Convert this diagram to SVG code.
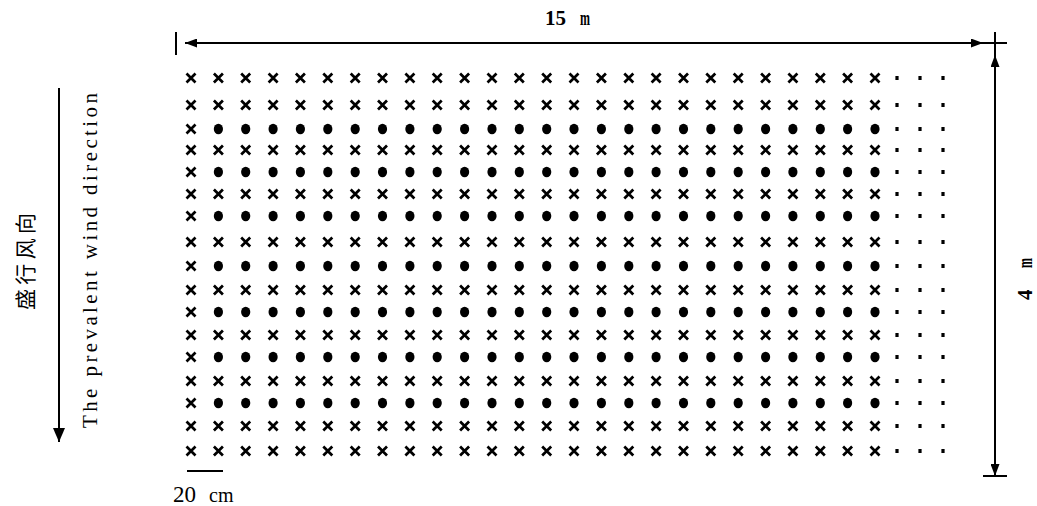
<svg xmlns="http://www.w3.org/2000/svg" xmlns:xlink="http://www.w3.org/1999/xlink" width="1037" height="506" viewBox="0 0 1037 506">
<style>
.ln{stroke:#000;stroke-width:2;fill:none}
.t{font-family:"Liberation Serif","Times New Roman",serif;fill:#000}
.cjk{font-family:"Noto Sans CJK SC","Noto Sans CJK JP",sans-serif;fill:#000}
.cross{stroke:#000;stroke-width:2.7;fill:none}
</style>
<defs>
<marker id="ah" viewBox="0 0 12 9" refX="12" refY="4.5" markerWidth="12" markerHeight="9" markerUnits="userSpaceOnUse" orient="auto-start-reverse">
<path d="M0,0 L12,4.5 L0,9 z" fill="#000"/>
</marker>
<marker id="ahBig" viewBox="0 0 14 12" refX="14" refY="6" markerWidth="14" markerHeight="12" markerUnits="userSpaceOnUse" orient="auto">
<path d="M0,0 L14,6 L0,12 z" fill="#000"/>
</marker>
<path id="x" class="cross" d="M-4.5,-4.5 L4.5,4.5 M4.5,-4.5 L-4.5,4.5"/>
<ellipse id="b" rx="4.6" ry="5.3" fill="#000"/>
<rect id="s" x="-1.6" y="-2" width="3.2" height="4" fill="#000"/>
<g id="tail">
<use href="#s" x="897"/><use href="#s" x="920"/><use href="#s" x="943"/>
</g>
<g id="rowX">
<use href="#x" x="191"/><use href="#x" x="218.4"/><use href="#x" x="245.7"/><use href="#x" x="273.1"/><use href="#x" x="300.4"/><use href="#x" x="327.8"/><use href="#x" x="355.2"/><use href="#x" x="382.5"/><use href="#x" x="409.9"/><use href="#x" x="437.2"/><use href="#x" x="464.6"/><use href="#x" x="492"/><use href="#x" x="519.3"/><use href="#x" x="546.7"/><use href="#x" x="574"/><use href="#x" x="601.4"/><use href="#x" x="628.8"/><use href="#x" x="656.1"/><use href="#x" x="683.5"/><use href="#x" x="710.8"/><use href="#x" x="738.2"/><use href="#x" x="765.6"/><use href="#x" x="792.9"/><use href="#x" x="820.3"/><use href="#x" x="847.6"/><use href="#x" x="875"/>
<use href="#tail"/>
</g>
<g id="rowD">
<use href="#x" x="191"/><use href="#b" x="218.4"/><use href="#b" x="245.7"/><use href="#b" x="273.1"/><use href="#b" x="300.4"/><use href="#b" x="327.8"/><use href="#b" x="355.2"/><use href="#b" x="382.5"/><use href="#b" x="409.9"/><use href="#b" x="437.2"/><use href="#b" x="464.6"/><use href="#b" x="492"/><use href="#b" x="519.3"/><use href="#b" x="546.7"/><use href="#b" x="574"/><use href="#b" x="601.4"/><use href="#b" x="628.8"/><use href="#b" x="656.1"/><use href="#b" x="683.5"/><use href="#b" x="710.8"/><use href="#b" x="738.2"/><use href="#b" x="765.6"/><use href="#b" x="792.9"/><use href="#b" x="820.3"/><use href="#b" x="847.6"/><use href="#b" x="875"/>
<use href="#tail"/>
</g>
</defs>
<rect width="1037" height="506" fill="#fff"/>

<g id="grid">
<use href="#rowX" y="78"/>
<use href="#rowX" y="105"/>
<use href="#rowD" y="129"/>
<use href="#rowX" y="150"/>
<use href="#rowD" y="172"/>
<use href="#rowX" y="194"/>
<use href="#rowD" y="216"/>
<use href="#rowX" y="242"/>
<use href="#rowD" y="266"/>
<use href="#rowX" y="290"/>
<use href="#rowD" y="312"/>
<use href="#rowX" y="335"/>
<use href="#rowD" y="357"/>
<use href="#rowX" y="381"/>
<use href="#rowD" y="403"/>
<use href="#rowX" y="426"/>
<use href="#rowX" y="451"/>
</g>

<g id="connectors">
<line class="ln" x1="176" y1="32" x2="176" y2="55"/>
<line class="ln" x1="185" y1="43" x2="983" y2="43" marker-start="url(#ah)" marker-end="url(#ah)"/>
<line class="ln" x1="983" y1="43" x2="1007" y2="43"/>
<line class="ln" x1="995" y1="32" x2="995" y2="55"/>
<line class="ln" x1="995" y1="55" x2="995" y2="476" marker-start="url(#ah)" marker-end="url(#ah)"/>
<line class="ln" x1="983" y1="476" x2="1007" y2="476"/>
<line class="ln" x1="59" y1="88" x2="59" y2="442" marker-end="url(#ahBig)"/>
<line class="ln" x1="187" y1="471" x2="223" y2="471"/>
</g>

<g id="labels">
<text class="t" x="545" y="25" font-size="21" font-weight="bold">15<tspan x="580" font-size="20" textLength="10" lengthAdjust="spacingAndGlyphs">m</tspan></text>
<text class="t" x="173" y="502" font-size="23">20<tspan x="209" font-size="20">cm</tspan></text>
<text class="t" transform="translate(1032,300) rotate(-90)" font-size="21" font-weight="bold">4<tspan x="32" font-size="20" textLength="10" lengthAdjust="spacingAndGlyphs">m</tspan></text>
<text class="t" transform="translate(97,428) rotate(-90)" font-size="21" textLength="335" lengthAdjust="spacing">The prevalent wind direction</text>
<text class="cjk" transform="translate(33,310) rotate(-90)" font-size="21" textLength="97" lengthAdjust="spacing">盛行风向</text>
</g>
</svg>
